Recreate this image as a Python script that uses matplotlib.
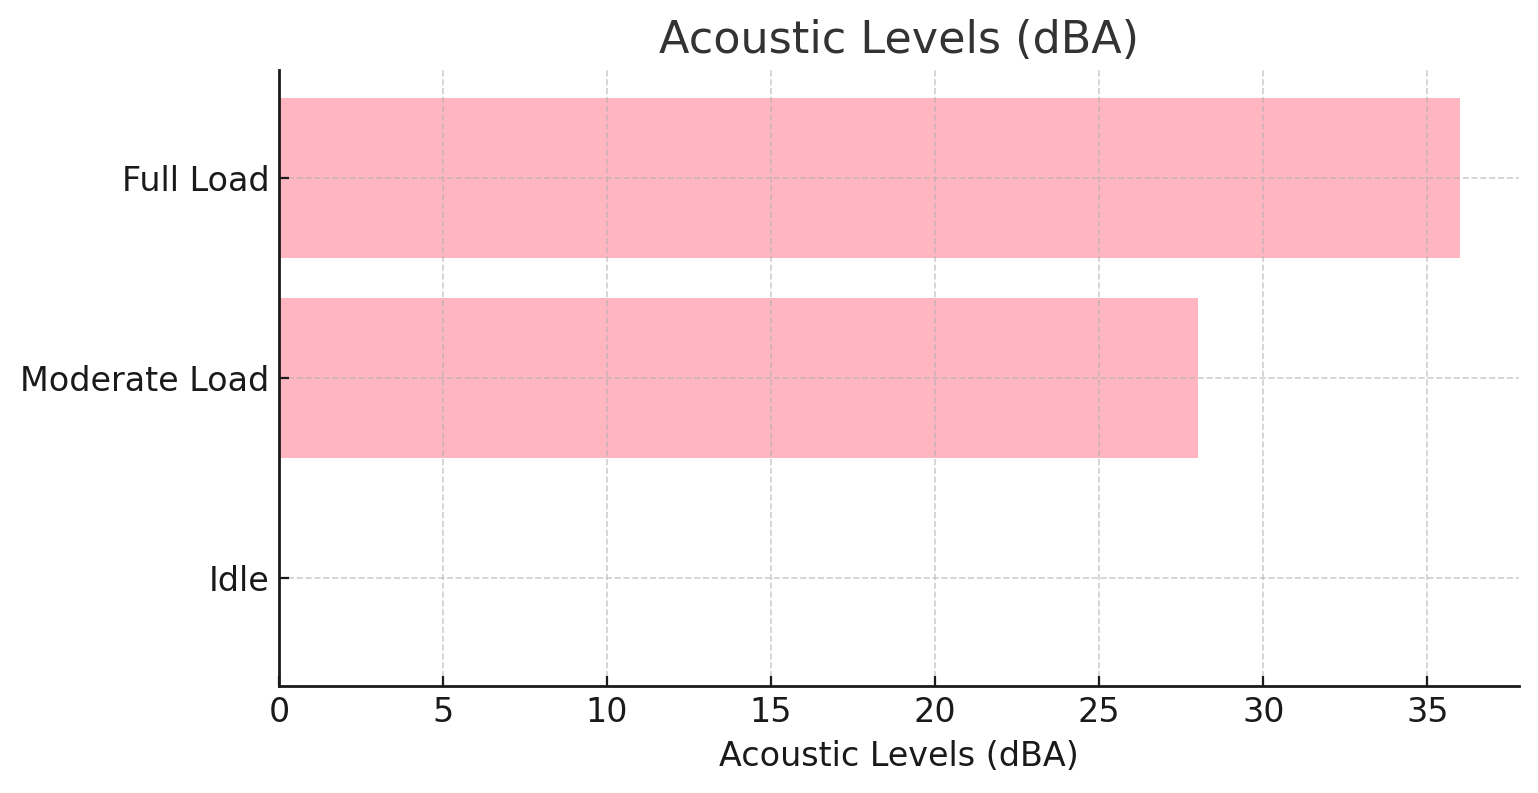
import matplotlib.pyplot as plt

# Datos
categories = ['Idle', 'Moderate Load', 'Full Load']
levels = [0, 28, 36]

fig, ax = plt.subplots(figsize=(7.69, 3.965), dpi=200)
fig.subplots_adjust(left=0.1814, right=0.9877, bottom=0.1349, top=0.9117)

ax.barh(categories, levels, color='#FFB6C1', height=0.8)

ax.set_title('Acoustic Levels (dBA)', fontsize=16, color='#333333')
ax.set_xlabel('Acoustic Levels (dBA)', fontsize=12, color='#1a1a1a')

ax.grid(True, linestyle='--', color='#b0b0b0', alpha=0.6, linewidth=0.6)
ax.set_axisbelow(False)

for s in ['top', 'right']:
    ax.spines[s].set_visible(False)
for s in ['left', 'bottom']:
    ax.spines[s].set_color('#1a1a1a')
    ax.spines[s].set_linewidth(1.0)
    ax.spines[s].set_zorder(5)

ax.tick_params(direction='in', labelsize=12, colors='#1a1a1a', length=3.5)

fig.savefig('out.png', dpi=200)
